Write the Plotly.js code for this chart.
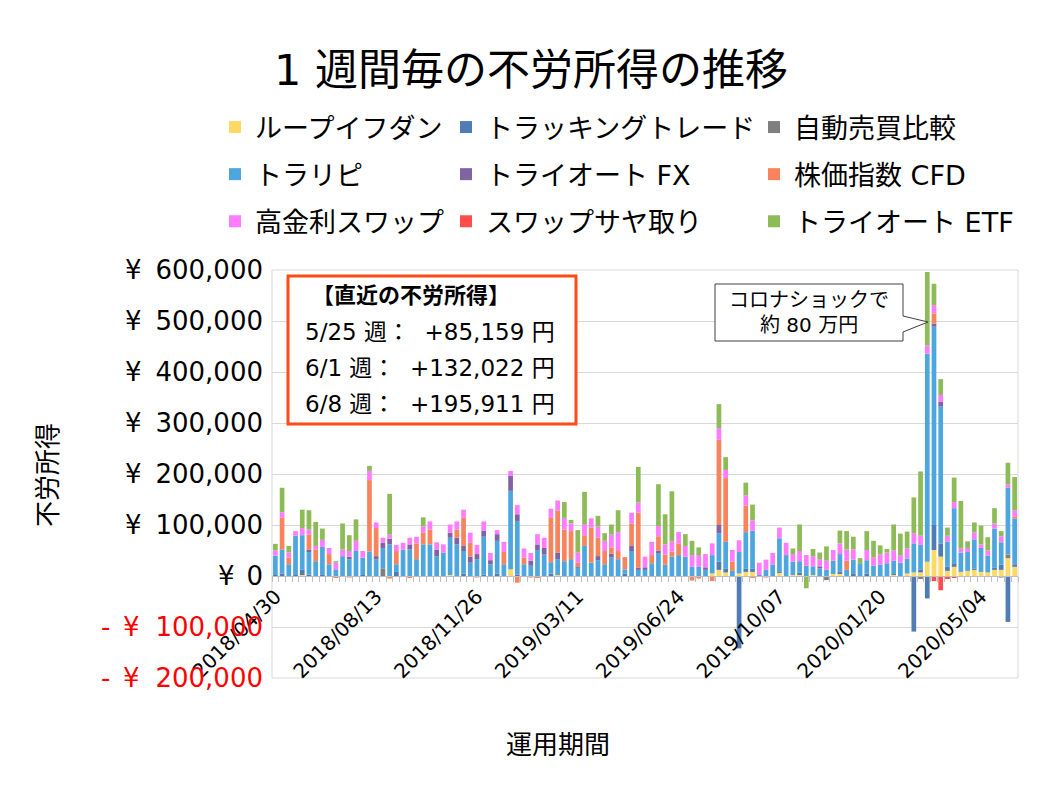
<!DOCTYPE html>
<html><head><meta charset="utf-8">
<script src="https://cdn.plot.ly/plotly-3.0.1.min.js"></script>
<style>html,body{margin:0;padding:0;background:#fff}#chart{width:1058px;height:794px}</style>
</head><body><div id="chart"></div>
<script>
// ---- categories (weeks) ----
const weeks = [
"2018/04/30","2018/05/07","2018/05/14","2018/05/21","2018/05/28","2018/06/04","2018/06/11","2018/06/18","2018/06/25","2018/07/02",
"2018/07/09","2018/07/16","2018/07/23","2018/07/30","2018/08/06","2018/08/13","2018/08/20","2018/08/27","2018/09/03","2018/09/10",
"2018/09/17","2018/09/24","2018/10/01","2018/10/08","2018/10/15","2018/10/22","2018/10/29","2018/11/05","2018/11/12","2018/11/19",
"2018/11/26","2018/12/03","2018/12/10","2018/12/17","2018/12/24","2018/12/31","2019/01/07","2019/01/14","2019/01/21","2019/01/28",
"2019/02/04","2019/02/11","2019/02/18","2019/02/25","2019/03/04","2019/03/11","2019/03/18","2019/03/25","2019/04/01","2019/04/08",
"2019/04/15","2019/04/22","2019/04/29","2019/05/06","2019/05/13","2019/05/20","2019/05/27","2019/06/03","2019/06/10","2019/06/17",
"2019/06/24","2019/07/01","2019/07/08","2019/07/15","2019/07/22","2019/07/29","2019/08/05","2019/08/12","2019/08/19","2019/08/26",
"2019/09/02","2019/09/09","2019/09/16","2019/09/23","2019/09/30","2019/10/07","2019/10/14","2019/10/21","2019/10/28","2019/11/04",
"2019/11/11","2019/11/18","2019/11/25","2019/12/02","2019/12/09","2019/12/16","2019/12/23","2019/12/30","2020/01/06","2020/01/13",
"2020/01/20","2020/01/27","2020/02/03","2020/02/10","2020/02/17","2020/02/24","2020/03/02","2020/03/09","2020/03/16","2020/03/23",
"2020/03/30","2020/04/06","2020/04/13","2020/04/20","2020/04/27","2020/05/04","2020/05/11","2020/05/18","2020/05/25","2020/06/01",
"2020/06/08"];

// ---- series values (thousand yen per week) ----
const loopIfDone = [
0,0,0,0,2,0,0,0,0,0, 0,0,0,0,0,0,0,0,0,0, 0,0,0,0,0,0,2,0,0,0, 0,0,0,0,0,13,0,0,0,0,
0,0,2,0,0,0,0,0,0,0, 0,0,0,0,0,0,0,0,0,0, 0,0,0,0,0,5,12,7,0,5, 8,8,0,0,0,6,0,2,2,0,
2,0,0,4,4,0,0,0,0,0, 0,0,2,0,5,7,7,28,51,38, 10,18,8,10,12,8,7,12,12,35,18];
const trackingTrade = [
2,5,0,2,10,3,0,2,0,0, 0,0,0,2,0,0,0,0,8,0, 0,0,0,0,0,0,0,0,5,0, 0,3,0,5,0,0,3,0,0,0,
0,5,0,0,0,0,0,0,0,0, 0,0,5,0,0,0,0,0,0,0, 0,0,0,0,0,0,16,8,0,-142, 6,6,0,0,0,2,0,0,5,0,
0,0,0,0,5,0,4,0,5,0, 0,0,2,0,0,-109,6,-44,49,26, 8,7,0,0,3,0,0,4,10,-90,5];
const autoCompare = [
0,0,0,0,0,0,0,0,0,0, 0,0,0,0,0,0,15,0,0,0, 0,0,0,0,0,0,0,0,0,0, 0,0,0,0,0,0,0,0,0,0,
0,0,0,0,0,0,0,0,0,0, 0,0,0,0,0,0,0,0,0,0, 0,0,0,0,0,0,0,0,0,0, 0,0,0,0,0,0,0,0,0,0,
0,0,-8,0,0,0,0,0,0,0, 0,0,0,0,0,0,-6,0,0,0, 0,0,0,0,0,0,0,0,-3,7,0];
const toraripi = [
38,47,23,77,68,44,29,55,23,13, 39,33,49,34,48,33,40,62,15,52, 52,33,62,62,39,46,73,62,44,26,
33,74,23,64,23,154,105,23,20,51, 42,22,31,29,33,16,59,26,31,23, 36,33,8,49,12,12,25,45,22,38,
41,38,18,18,12,36,56,52,10,42, 72,75,2,12,22,66,41,26,22,20, 17,15,12,26,34,12,28,25,26,20,
22,25,26,26,29,57,48,408,389,268, 49,108,38,37,57,47,33,77,44,131,90];
const triautoFX = [
0,0,0,0,0,5,0,0,0,0, 0,5,0,0,0,6,10,11,0,0, 10,0,0,0,13,0,10,13,11,12, 10,12,8,13,0,29,13,0,10,11,
13,0,13,0,0,3,0,0,8,0, 8,0,0,11,4,5,0,5,0,0, 0,0,0,0,5,0,16,0,0,0, 0,0,0,0,0,0,0,0,0,0,
0,4,0,0,0,0,0,0,0,0, 0,0,0,0,0,0,0,0,6,10, 0,0,0,0,0,0,0,0,0,0,0];
const indexCFD = [
0,62,13,0,0,29,23,0,20,-4, 0,-3,0,0,140,55,0,-5,26,0, -4,31,23,29,0,0,0,16,54,27,
-3,0,0,0,24,0,-13,13,-3,-4, 0,87,82,62,55,7,21,69,36,26, 12,16,24,43,108,0,16,28,20,10,
23,0,-9,-5,0,-10,167,125,18,0, 52,-4,0,-3,0,0,0,0,0,0, 0,0,0,0,0,18,0,0,0,0,
0,0,0,0,0,0,0,0,20,0, 0,0,0,0,0,0,0,0,0,0,4];
const highSwap = [
10,11,10,9,14,10,7,14,12,13, 13,11,20,13,18,11,10,8,12,13, 13,13,12,16,14,16,16,16,16,20,
18,18,14,8,20,10,18,18,15,20, 20,18,20,23,15,20,22,18,22,20, 25,37,0,21,20,21,26,20,20,20,
22,21,23,23,26,23,23,16,23,23, 20,20,24,20,23,21,24,15,20,21, 20,14,18,21,21,22,20,0,20,17,
20,21,20,15,20,20,18,16,16,13, 12,12,8,8,13,7,10,10,12,7,12];
const swapSaya = [
0,0,0,0,0,0,0,0,0,0, 0,0,0,0,0,0,0,0,0,0, 0,0,0,0,0,0,0,0,0,0, 0,0,0,0,0,0,0,0,0,0,
0,0,0,0,0,0,0,0,0,0, 0,0,0,0,0,0,0,0,0,0, 0,0,0,0,0,0,0,0,0,0, 0,0,0,0,0,0,0,0,0,0,
0,0,0,0,0,0,0,0,0,0, 0,0,0,0,0,0,0,0,-10,-28, -6,-4,0,0,0,0,0,0,0,0,0];
const triautoETF = [
13,48,13,0,36,38,47,22,0,3, 51,31,42,0,10,0,0,80,0,0, 0,0,18,0,0,0,0,0,0,0, 0,0,0,0,0,0,0,0,0,0,
0,0,0,31,7,44,63,0,21,15, 20,43,0,0,70,0,0,82,59,98, 0,23,28,15,0,0,47,25,0,0,
25,31,0,0,0,0,0,11,52,-24, 14,13,28,0,25,36,25,10,37,32, 18,7,51,42,33,70,126,144,42,31,
16,48,93,13,20,37,26,30,10,42,65];

const seriesNames = ["ループイフダン","トラッキングトレード","自動売買比較","トラリピ","トライオート FX","株価指数 CFD","高金利スワップ","スワップサヤ取り","トライオート ETF"];
const seriesColors = ["#FFD966","#4F7DB3","#7F7F7F","#4EA6DE","#8064A2","#F7845C","#FF7BFF","#FF4D4D","#8DBB57"];
const seriesLegends = ["legend","legend2","legend3","legend","legend2","legend3","legend","legend2","legend3"];
const seriesValues = [loopIfDone,trackingTrade,autoCompare,toraripi,triautoFX,indexCFD,highSwap,swapSaya,triautoETF];
const UNIT = 1000;

const yTickValues = [-200000,-100000,0,100000,200000,300000,400000,500000,600000];
const labelStep = 15;
const titleText = "1 週間毎の不労所得の推移";
const recentHeader = "【直近の不労所得】";
const recentLines = ["5/25 週：  +85,159 円","6/1 週：  +132,022 円","6/8 週：  +195,911 円"];
const calloutLines = ["コロナショックで","約 80 万円"];

// ---- layout helpers ----
const W = 1058, H = 794;
const M = {l:272, r:40, t:270, b:116};
const px2x = px => (px - M.l) / (W - M.l - M.r);
const py2y = py => (H - M.b - py) / (H - M.t - M.b);
const FONT = "DejaVu Sans, 'Noto Sans CJK JP', sans-serif";
const JFONT = "'Noto Sans CJK JP', sans-serif";
const yMin = yTickValues[0], yMax = yTickValues[yTickValues.length-1];

const xIdx = weeks.map((_, i) => i);
const traces = seriesValues.map((arr, k) => ({
  type: 'bar', name: seriesNames[k], x: xIdx, y: arr.map(v => v * UNIT),
  marker: {color: seriesColors[k], line: {width: 0}},
  legend: seriesLegends[k], legendgroup: 'g' + k, hoverinfo: 'skip'
}));

const fmt = v => Math.abs(v).toLocaleString('en-US');
const yTickText = yTickValues.map(v => v < 0 ? '<span style="color:#FF0000">' + fmt(v) + '</span>' : fmt(v));

const annotations = [];
yTickValues.forEach(v => {
  if (v < 0) {
    annotations.push({xref:'paper', yref:'y', x:px2x(99), y:v, xanchor:'left', yanchor:'middle', text:'-', showarrow:false, font:{family:FONT, size:26, color:'#FF0000'}});
    annotations.push({xref:'paper', yref:'y', x:px2x(121), y:v, xanchor:'left', yanchor:'middle', text:'¥', showarrow:false, font:{family:FONT, size:26, color:'#FF0000'}});
  } else if (v === 0) {
    annotations.push({xref:'paper', yref:'y', x:px2x(216), y:v, xanchor:'left', yanchor:'middle', text:'¥', showarrow:false, font:{family:FONT, size:26, color:'#000'}});
  } else {
    annotations.push({xref:'paper', yref:'y', x:px2x(123), y:v, xanchor:'left', yanchor:'middle', text:'¥', showarrow:false, font:{family:FONT, size:26, color:'#000'}});
  }
});
// axis titles
annotations.push({xref:'paper', yref:'paper', x:px2x(558), y:py2y(742), text:'運用期間', showarrow:false, xanchor:'center', yanchor:'middle', font:{family:JFONT, size:26, color:'#000'}});
annotations.push({xref:'paper', yref:'paper', x:px2x(45), y:py2y(475), text:'不労所得', textangle:-90, showarrow:false, xanchor:'center', yanchor:'middle', font:{family:JFONT, size:26, color:'#000'}});
// recent box text
annotations.push({xref:'paper', yref:'paper', x:px2x(411), y:py2y(295), text:'<b>' + recentHeader + '</b>', showarrow:false, xanchor:'center', yanchor:'middle', font:{family:FONT, size:22, color:'#000'}});
recentLines.forEach((t, i) => {
  annotations.push({xref:'paper', yref:'paper', x:px2x(303), y:py2y(332 + i*36), text:t, showarrow:false, xanchor:'left', yanchor:'middle', font:{family:FONT, size:23, color:'#000'}});
});
// callout text
calloutLines.forEach((t, i) => {
  annotations.push({xref:'paper', yref:'paper', x:px2x(809), y:py2y(300 + i*25), text:t, showarrow:false, xanchor:'center', yanchor:'middle', font:{family:FONT, size:20, color:'#000'}});
});

const cx = [715, 903, 928], cy = [284, 341, 316, 322, 332];
const calloutPath = 'M' + px2x(cx[0]) + ',' + py2y(cy[0]) + ' L' + px2x(cx[1]) + ',' + py2y(cy[0]) +
  ' L' + px2x(cx[1]) + ',' + py2y(cy[2]) + ' L' + px2x(cx[2]) + ',' + py2y(cy[3]) +
  ' L' + px2x(cx[1]) + ',' + py2y(cy[4]) + ' L' + px2x(cx[1]) + ',' + py2y(cy[1]) +
  ' L' + px2x(cx[0]) + ',' + py2y(cy[1]) + ' Z';

const shapes = [
  {type:'rect', xref:'paper', yref:'paper', x0:0, x1:1, y0:0, y1:1, line:{color:'#D9D9D9', width:1}, layer:'below'},
  {type:'rect', xref:'paper', yref:'paper', x0:px2x(288), x1:px2x(576), y0:py2y(424), y1:py2y(276), line:{color:'#FF4B14', width:3}, fillcolor:'#FFFFFF'},
  {type:'path', xref:'paper', yref:'paper', path:calloutPath, line:{color:'#404040', width:1}, fillcolor:'#FFFFFF'}
];

const legendBase = {xref:'paper', yref:'paper', xanchor:'left', yanchor:'top', y:py2y(103),
  font:{family:FONT, size:27, color:'#000'}, bgcolor:'rgba(0,0,0,0)', traceorder:'grouped', tracegroupgap:9, itemclick:false, itemdoubleclick:false};

const layout = {
  width: W, height: H, paper_bgcolor:'#FFFFFF', plot_bgcolor:'#FFFFFF',
  margin: {l:M.l, r:M.r, t:M.t, b:M.b, pad:0, autoexpand:false}, barmode:'relative', bargap:0.3, showlegend:true,
  title: {text:titleText, xref:'container', yref:'container', x:531/W, y:1-70/H, xanchor:'center', yanchor:'middle', font:{family:FONT, size:43, color:'#000'}},
  legend: Object.assign({}, legendBase, {x:px2x(215)}),
  legend2: Object.assign({}, legendBase, {x:px2x(446)}),
  legend3: Object.assign({}, legendBase, {x:px2x(754)}),
  xaxis: {range:[-0.5, weeks.length-0.5], anchor:'free', position:(0-yMin)/(yMax-yMin),
    tickvals: xIdx.filter(i => i % labelStep === 0), ticktext: xIdx.filter(i => i % labelStep === 0).map(i => weeks[i]),
    tickangle:-45, tickfont:{family:FONT, size:20, color:'#000'}, showgrid:false, zeroline:false,
    showline:true, linecolor:'#BFBFBF', linewidth:1, ticks:'', automargin:false,
    minor:{ticks:'outside', ticklen:5, tickcolor:'#BFBFBF', dtick:1, tick0:0.5, showgrid:false}},
  yaxis: {range:[yMin, yMax], tickvals:yTickValues, ticktext:yTickText, tickfont:{family:FONT, size:26, color:'#000'},
    gridcolor:'#D9D9D9', gridwidth:1, zeroline:false, showline:false, ticks:'', ticklabelstandoff:8, automargin:false},
  shapes: shapes, annotations: annotations
};

Plotly.newPlot('chart', traces, layout, {staticPlot:true, displayModeBar:false});
</script>
</body></html>
